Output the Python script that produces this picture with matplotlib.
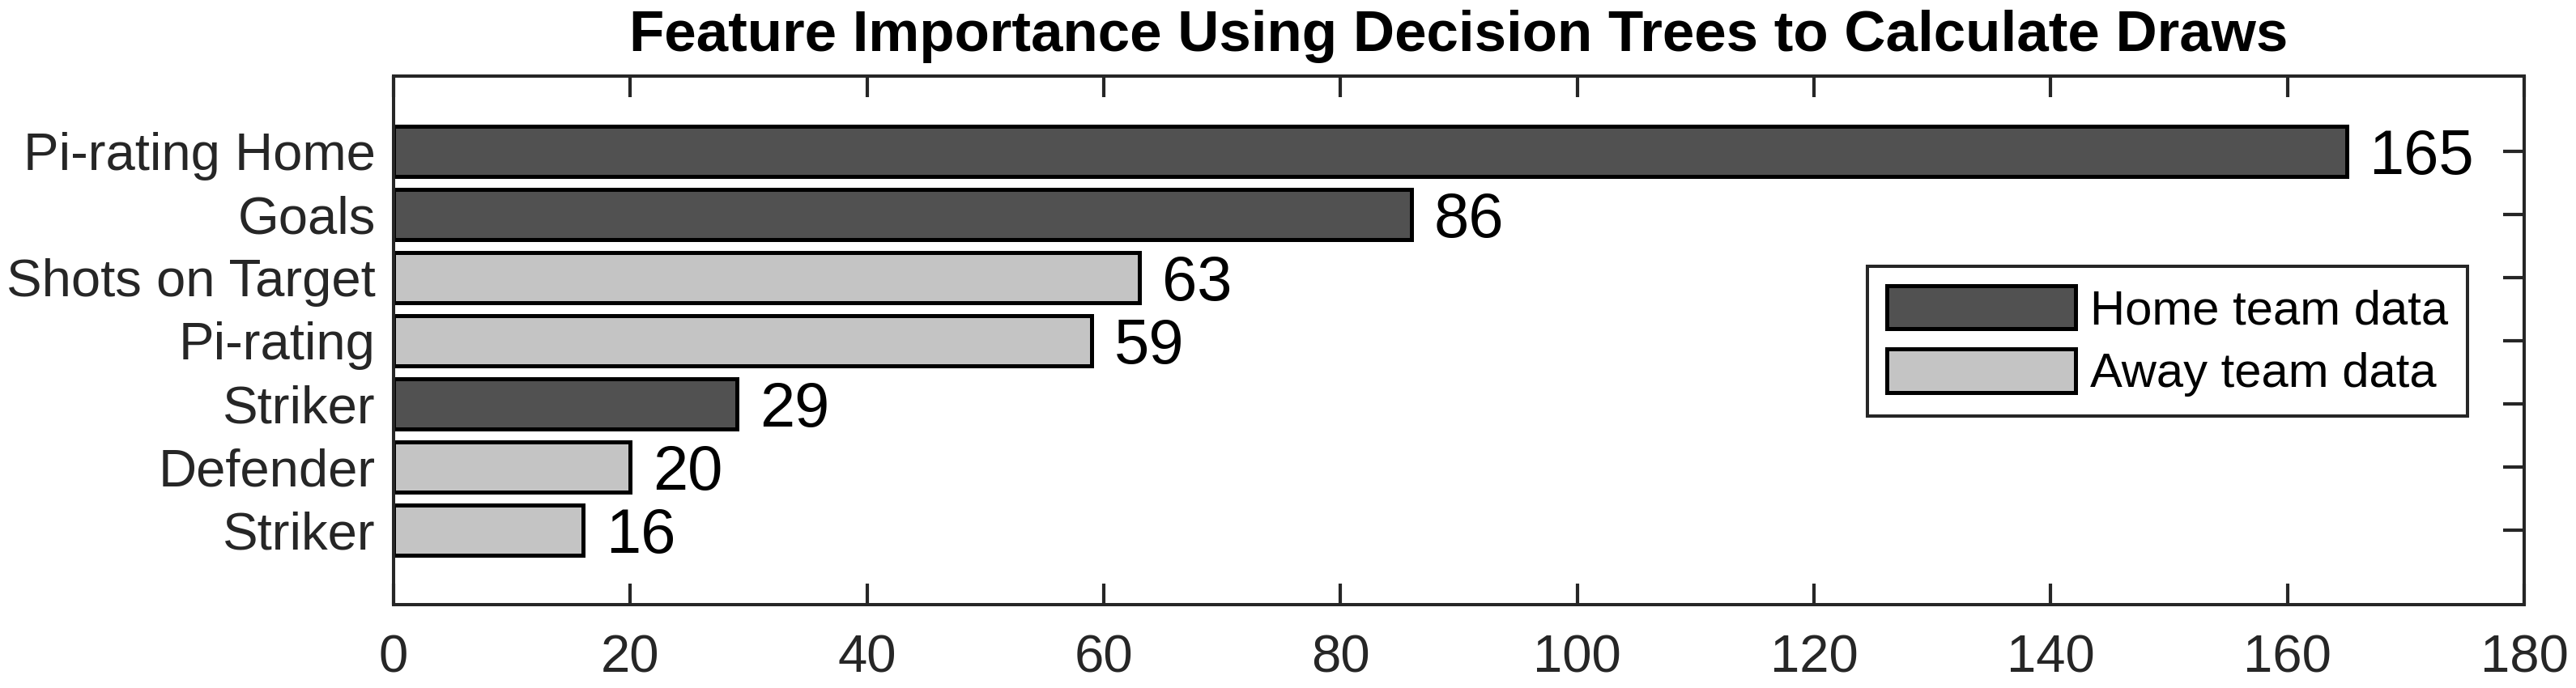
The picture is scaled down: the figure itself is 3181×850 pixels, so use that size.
import matplotlib
matplotlib.use('Agg')
import matplotlib.pyplot as plt
import numpy as np
from matplotlib.patches import Patch

plt.rcParams['font.family'] = ['Liberation Sans', 'DejaVu Sans']

# dados (de cima para baixo)
features = ['Pi-rating Home', 'Goals', 'Shots on Target', 'Pi-rating',
            'Striker', 'Defender', 'Striker']
importancia = [165, 86, 63, 59, 29, 20, 16]
equipa = ['home', 'home', 'away', 'away', 'home', 'away', 'away']
xticks = [0, 20, 40, 60, 80, 100, 120, 140, 160, 180]

cor_home = '#515151'
cor_away = '#c4c4c4'
cor_eixo = '#262626'

fig = plt.figure(figsize=(31.81, 8.5), dpi=100)
ax = fig.add_axes([0.1528, 0.1212, 0.8271, 0.7682])

n = len(features)
y_pos = n - np.arange(n)
cores = [cor_home if e == 'home' else cor_away for e in equipa]
ax.barh(y_pos, importancia, height=0.8, color=cores, edgecolor='black',
        linewidth=3.6, zorder=2)

for y, v in zip(y_pos, importancia):
    ax.annotate(str(v), (v, y), xytext=(20, 0), textcoords='offset points',
                ha='left', va='center_baseline', fontsize=56, color='black')

ax.set_xlim(0, 180)
ax.set_ylim(1 - 1.18, n + 1.19)
ax.set_xticks(xticks)
ax.set_xticklabels([str(t) for t in xticks])
ax.set_yticks(y_pos)
ax.set_yticklabels(features)

ax.tick_params(axis='both', direction='in', length=19, width=3,
               color=cor_eixo, labelcolor=cor_eixo, labelsize=47)
ax.tick_params(axis='x', top=True, pad=26)
ax.tick_params(axis='y', right=True, pad=16)
for s in ax.spines.values():
    s.set_linewidth(2.9)
    s.set_color(cor_eixo)
    s.set_zorder(3)

ax.set_title('Feature Importance Using Decision Trees to Calculate Draws',
             fontsize=51, fontweight='bold', pad=22)

handles = [Patch(facecolor=cor_home, edgecolor='black', linewidth=3.6, label='Home team data'),
           Patch(facecolor=cor_away, edgecolor='black', linewidth=3.6, label='Away team data')]
leg = fig.legend(handles=handles, loc='upper right', bbox_to_anchor=(0.9579, 0.6129),
                 fontsize=43, frameon=True, fancybox=False, borderaxespad=0,
                 handlelength=3.9, handleheight=1.0, handletextpad=0.3,
                 labelspacing=0.32, borderpad=0.4)
leg.get_frame().set_edgecolor(cor_eixo)
leg.get_frame().set_linewidth(2.9)
leg.get_frame().set_alpha(1)

fig.savefig('out.png', dpi=100)
